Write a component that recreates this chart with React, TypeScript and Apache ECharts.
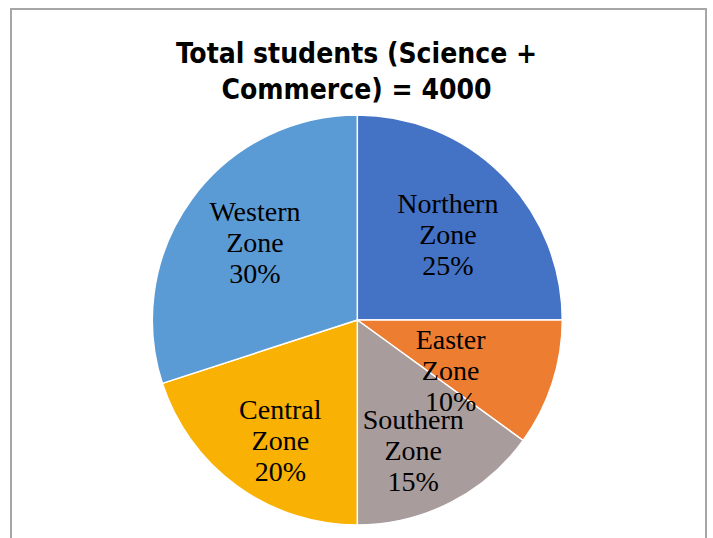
import React, { useEffect, useRef } from "react";
import * as echarts from "echarts";

const TITLE_LINES = ["Total students (Science +", "Commerce) = 4000"];
const zoneNames = ["Northern Zone", "Easter Zone", "Southern Zone", "Central Zone", "Western Zone"];
const zoneShares = [25, 10, 15, 20, 30];
const zoneColors = ["#4472C4", "#ED7D31", "#A89C9C", "#F9B103", "#5B9BD5"];

// label nudges away from the default inside position (px)
const labelNudge: [number, number][] = [
  [16, -11],
  [-7, 18],
  [8, 36],
  [-15, 35],
  [-17, -15],
];

export default function App() {
  const ref = useRef<HTMLDivElement>(null);
  useEffect(() => {
    document.body.style.margin = "0";
    const chart = echarts.init(ref.current!, undefined, { renderer: "svg" });
    chart.setOption({
      animation: false,
      backgroundColor: "#ffffff",
      title: {
        text: TITLE_LINES.join("\n"),
        left: "center",
        top: 30,
        textStyle: {
          fontFamily: "'DejaVu Sans Condensed', 'Liberation Sans Narrow', sans-serif",
          fontWeight: "bold",
          fontSize: 28,
          lineHeight: 36,
          color: "#000000",
        },
      },
      graphic: [
        {
          type: "rect",
          shape: { x: 11, y: 9, width: 695, height: 600 },
          style: { fill: "none", stroke: "#A6A6A6", lineWidth: 2 },
          silent: true,
        },
      ],
      series: [
        {
          type: "pie",
          center: [357.3, 320],
          radius: 205,
          startAngle: 90,
          clockwise: true,
          avoidLabelOverlap: false,
          itemStyle: { borderColor: "#ffffff", borderWidth: 1.5 },
          label: {
            show: true,
            position: "inside",
            formatter: (p: any) => `${p.name.replace(" ", "\n")}\n${p.value}%`,
            fontFamily: "'Liberation Serif', serif",
            fontSize: 28,
            lineHeight: 31,
            color: "#000000",
          },
          labelLine: { show: false },
          labelLayout: (p: any) => {
            const n = labelNudge[p.dataIndex] || [0, 0];
            return { dx: n[0], dy: n[1] };
          },
          data: zoneNames.map((name, i) => ({
            name,
            value: zoneShares[i],
            itemStyle: { color: zoneColors[i] },
          })),
        },
      ],
    });
    return () => chart.dispose();
  }, []);
  return (
    <div
      ref={ref}
      style={{ position: "absolute", left: 0, top: 0, width: 713, height: 538 }}
    />
  );
}
